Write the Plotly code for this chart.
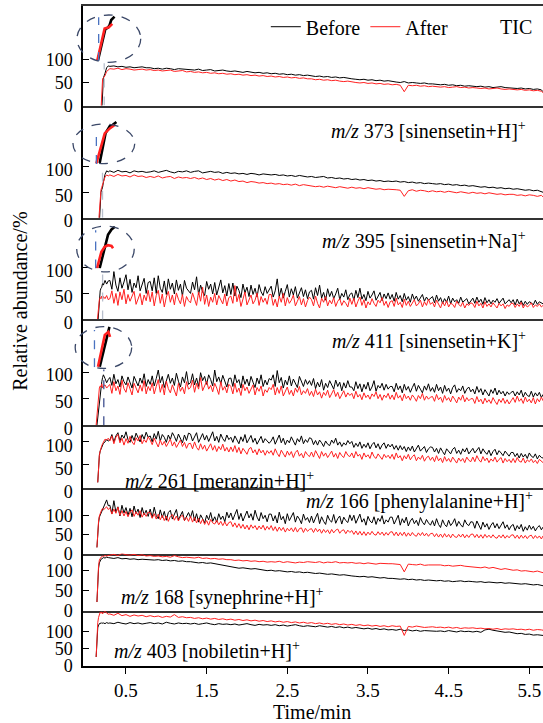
import plotly.graph_objects as go

# ---------------- DATA ----------------
t_lead = [0.13, 0.14, 0.15, 0.16, 0.17, 0.18, 0.19, 0.20, 0.21, 0.22, 0.24, 0.26, 0.28]
t_main = [0.30, 0.35, 0.40, 0.45, 0.50, 0.55, 0.60, 0.65, 0.70, 0.75,
          0.80, 0.85, 0.90, 0.95, 1.00, 1.05, 1.10, 1.15, 1.20, 1.25,
          1.30, 1.35, 1.40, 1.45, 1.50, 1.55, 1.60, 1.65, 1.70, 1.75,
          1.80, 1.85, 1.90, 1.95, 2.00, 2.05, 2.10, 2.15, 2.20, 2.25,
          2.30, 2.35, 2.40, 2.45, 2.50, 2.55, 2.60, 2.65, 2.70, 2.75,
          2.80, 2.85, 2.90, 2.95, 3.00, 3.05, 3.10, 3.15, 3.20, 3.25,
          3.30, 3.35, 3.40, 3.45, 3.50, 3.55, 3.60, 3.65, 3.70, 3.75,
          3.80, 3.85, 3.90, 3.95, 4.00, 4.05, 4.10, 4.15, 4.20, 4.25,
          4.30, 4.35, 4.40, 4.45, 4.50, 4.55, 4.60, 4.65, 4.70, 4.75,
          4.80, 4.85, 4.90, 4.95, 5.00, 5.05, 5.10, 5.15, 5.20, 5.25,
          5.30, 5.35, 5.40, 5.45, 5.50, 5.55, 5.60, 5.65, 5.67]
# finer sampling used for the noisy ion traces
t_fine = [0.300, 0.325, 0.350, 0.375, 0.400, 0.425, 0.450, 0.475, 0.500, 0.525,
          0.550, 0.575, 0.600, 0.625, 0.650, 0.675, 0.700, 0.725, 0.750, 0.775,
          0.800, 0.825, 0.850, 0.875, 0.900, 0.925, 0.950, 0.975, 1.000, 1.025,
          1.050, 1.075, 1.100, 1.125, 1.150, 1.175, 1.200, 1.225, 1.250, 1.275,
          1.300, 1.325, 1.350, 1.375, 1.400, 1.425, 1.450, 1.475, 1.500, 1.525,
          1.550, 1.575, 1.600, 1.625, 1.650, 1.675, 1.700, 1.725, 1.750, 1.775,
          1.800, 1.825, 1.850, 1.875, 1.900, 1.925, 1.950, 1.975, 2.000, 2.025,
          2.050, 2.075, 2.100, 2.125, 2.150, 2.175, 2.200, 2.225, 2.250, 2.275,
          2.300, 2.325, 2.350, 2.375, 2.400, 2.425, 2.450, 2.475, 2.500, 2.525,
          2.550, 2.575, 2.600, 2.625, 2.650, 2.675, 2.700, 2.725, 2.750, 2.775,
          2.800, 2.825, 2.850, 2.875, 2.900, 2.925, 2.950, 2.975, 3.000, 3.025,
          3.050, 3.075, 3.100, 3.125, 3.150, 3.175, 3.200, 3.225, 3.250, 3.275,
          3.300, 3.325, 3.350, 3.375, 3.400, 3.425, 3.450, 3.475, 3.500, 3.525,
          3.550, 3.575, 3.600, 3.625, 3.650, 3.675, 3.700, 3.725, 3.750, 3.775,
          3.800, 3.825, 3.850, 3.875, 3.900, 3.925, 3.950, 3.975, 4.000, 4.025,
          4.050, 4.075, 4.100, 4.125, 4.150, 4.175, 4.200, 4.225, 4.250, 4.275,
          4.300, 4.325, 4.350, 4.375, 4.400, 4.425, 4.450, 4.475, 4.500, 4.525,
          4.550, 4.575, 4.600, 4.625, 4.650, 4.675, 4.700, 4.725, 4.750, 4.775,
          4.800, 4.825, 4.850, 4.875, 4.900, 4.925, 4.950, 4.975, 5.000, 5.025,
          5.050, 5.075, 5.100, 5.125, 5.150, 5.175, 5.200, 5.225, 5.250, 5.275,
          5.300, 5.325, 5.350, 5.375, 5.400, 5.425, 5.450, 5.475, 5.500, 5.525,
          5.550, 5.575, 5.600, 5.625, 5.650, 5.67]
time_min = t_lead + t_main
time_fine = t_lead + t_fine

# TIC
tic_before = [None] * 7 + [-10, 50, 60, 70, 82, 86] + [
    85, 86, 84, 85, 83, 84, 82, 83, 84, 82,
    82, 80, 81, 79, 81, 80, 78, 80, 79, 78,
    78, 77, 79, 76, 77, 78, 75, 76, 77, 75,
    74, 75, 73, 72, 74, 72, 71, 72, 70, 71,
    69, 70, 68, 69, 67, 68, 66, 67, 65, 66,
    65, 63, 64, 62, 63, 61, 62, 60, 61, 59,
    58, 57, 56, 57, 55, 56, 54, 55, 53, 54,
    52, 51, 50, 52, 49, 50, 49, 48, 49, 47,
    47, 46, 45, 46, 44, 45, 43, 44, 42, 43,
    42, 41, 42, 40, 41, 39, 40, 41, 39, 38,
    38, 37, 38, 36, 37, 35, 36, 34, 30]
tic_after = [None] * 6 + [-10, 20, 58, 60, 65, 74, 78] + [
    80, 79, 81, 78, 80, 79, 77, 78, 79, 77,
    78, 76, 77, 75, 76, 77, 74, 75, 76, 73,
    74, 72, 73, 71, 72, 70, 71, 69, 70, 68,
    69, 67, 68, 66, 67, 65, 66, 64, 65, 63,
    64, 62, 63, 61, 62, 60, 61, 59, 60, 58,
    58, 56, 57, 55, 56, 54, 55, 53, 52, 53,
    51, 50, 49, 50, 48, 49, 47, 48, 46, 47,
    45, 46, 44, 30, 44, 43, 44, 42, 43, 41,
    42, 41, 40, 41, 39, 40, 41, 39, 40, 38,
    39, 38, 37, 38, 36, 37, 38, 36, 35, 36,
    35, 34, 35, 33, 34, 32, 33, 31, 28]

# m/z 373
mz373_before = [None] * 4 + [-10, 30, 50, 55, 60, 70, 85, 92, 90] + [
    92, 89, 93, 90, 91, 88, 92, 90, 91, 89,
    90, 92, 89, 91, 93, 90, 88, 91, 90, 92,
    89, 91, 92, 88, 90, 91, 89, 90, 87, 89,
    87, 88, 86, 87, 85, 87, 86, 84, 86, 85,
    84, 85, 83, 84, 82, 83, 81, 83, 82, 80,
    81, 79, 80, 81, 78, 79, 77, 78, 76, 77,
    75, 76, 74, 75, 73, 74, 72, 73, 71, 72,
    71, 72, 70, 71, 69, 70, 68, 69, 67, 68,
    67, 66, 67, 65, 66, 64, 65, 63, 64, 62,
    63, 62, 60, 61, 59, 60, 58, 59, 57, 58,
    56, 57, 55, 54, 55, 53, 54, 52, 50]
mz373_after = [None] * 3 + [-10, 20, 45, 55, 60, 65, 72, 80, 84, 82] + [
    84, 81, 85, 82, 83, 80, 84, 81, 82, 79,
    81, 79, 82, 78, 80, 81, 77, 80, 78, 79,
    77, 79, 76, 78, 75, 77, 74, 76, 73, 75,
    72, 74, 71, 72, 69, 71, 70, 68, 69, 67,
    68, 66, 67, 65, 66, 64, 66, 63, 65, 64,
    63, 61, 62, 60, 62, 61, 59, 61, 60, 58,
    60, 58, 59, 57, 59, 58, 56, 57, 55, 56,
    56, 55, 54, 42, 53, 55, 52, 54, 53, 51,
    53, 51, 52, 50, 52, 51, 49, 51, 50, 48,
    50, 48, 49, 47, 49, 48, 46, 47, 45, 46,
    46, 44, 45, 43, 45, 44, 42, 44, 41]

# m/z 395 (fine sampling)
mz395_before = [None] * 2 + [-10, 20, 45, 55, 60, 62, 70, 66, 75, 68, 74] + [
    75, 58, 92, 66, 54, 80, 60, 72, 86, 57, 77, 52, 70, 61, 84, 55, 68, 79, 50, 71,
    73, 55, 80, 50, 84, 60, 52, 74, 48, 78, 58, 70, 49, 76, 56, 68, 45, 75, 60, 54,
    50, 72, 57, 82, 48, 66, 53, 46, 73, 58, 68, 49, 71, 47, 63, 76, 51, 65, 45, 69,
    48, 70, 45, 64, 56, 42, 68, 51, 62, 44, 66, 48, 60, 43, 67, 53, 46, 63, 50, 58,
    64, 43, 55, 78, 44, 60, 41, 54, 67, 43, 59, 47, 63, 41, 52, 61, 44, 57, 40, 53,
    56, 39, 61, 46, 66, 41, 52, 37, 59, 44, 54, 40, 49, 60, 38, 50, 43, 57, 38, 48,
    51, 37, 56, 42, 60, 39, 48, 36, 54, 41, 47, 55, 37, 45, 52, 36, 49, 40, 51, 39,
    48, 35, 52, 39, 46, 34, 50, 37, 44, 33, 49, 38, 45, 35, 42, 48, 35, 43, 37, 41,
    44, 32, 47, 35, 42, 31, 40, 33, 45, 30, 41, 34, 38, 31, 43, 33, 37, 40, 30, 36,
    41, 31, 43, 33, 39, 29, 42, 32, 38, 30, 37, 33, 40, 31, 35, 41, 30, 34, 38, 32,
    38, 28, 39, 30, 36, 27, 35, 29, 34, 32, 28, 37, 29, 34, 31, 30]
mz395_after = [None] + [-10, 10, 30, 38, 42, 40, 45, 38, 44, 40, 46, 38] + [
    40, 55, 31, 50, 27, 53, 38, 58, 30, 48, 35, 46, 54, 29, 41, 50, 28, 47, 36, 56,
    34, 53, 26, 46, 56, 31, 49, 24, 43, 54, 33, 47, 28, 51, 39, 30, 48, 25, 44, 36,
    32, 51, 39, 27, 53, 35, 62, 29, 47, 25, 43, 33, 50, 28, 46, 37, 30, 49, 26, 42,
    45, 31, 65, 34, 48, 25, 42, 53, 28, 39, 47, 30, 37, 51, 27, 44, 33, 41, 29, 48,
    48, 27, 39, 24, 45, 33, 50, 26, 42, 31, 37, 47, 26, 35, 44, 28, 40, 24, 36, 43,
    38, 26, 45, 31, 22, 41, 33, 44, 26, 37, 30, 42, 25, 35, 40, 27, 36, 31, 24, 41,
    29, 41, 24, 35, 43, 27, 38, 22, 34, 28, 40, 31, 25, 37, 32, 42, 27, 35, 23, 34,
    36, 25, 41, 28, 33, 23, 39, 27, 35, 25, 32, 38, 26, 30, 37, 24, 34, 27, 39, 29,
    33, 24, 37, 28, 22, 34, 26, 36, 24, 31, 29, 23, 35, 29, 25, 33, 22, 30, 27, 32,
    30, 23, 35, 26, 31, 22, 34, 25, 30, 24, 32, 27, 22, 31, 26, 30, 21, 28, 25, 31,
    31, 23, 30, 25, 33, 22, 29, 24, 27, 32, 23, 28, 25, 30, 24, 27]

# m/z 411 (fine sampling)
mz411_before = [None] + [0, 15, 30, 45, 60, 72, 82, 90, 95, 88, 80, 86] + [
    90, 75, 96, 78, 86, 72, 93, 82, 76, 91, 80, 70, 92, 84, 74, 89, 79, 97, 73, 86,
    77, 93, 74, 88, 104, 80, 92, 71, 86, 96, 79, 89, 75, 98, 83, 72, 91, 80, 101, 77,
    80, 97, 76, 89, 73, 99, 84, 92, 77, 95, 86, 74, 104, 82, 91, 78, 94, 84, 72, 88,
    89, 73, 95, 80, 86, 70, 93, 77, 87, 74, 92, 81, 71, 89, 78, 95, 73, 85, 76, 88,
    85, 95, 73, 103, 80, 90, 70, 85, 76, 93, 74, 87, 79, 71, 92, 81, 73, 86, 77, 84,
    75, 88, 69, 81, 72, 86, 66, 79, 71, 84, 76, 68, 85, 73, 81, 65, 80, 70, 84, 72,
    72, 65, 82, 69, 78, 63, 77, 68, 81, 65, 72, 84, 64, 75, 70, 79, 66, 77, 68, 73,
    73, 63, 79, 67, 74, 61, 77, 66, 73, 62, 71, 79, 64, 75, 68, 61, 74, 66, 78, 64,
    71, 62, 77, 65, 72, 60, 75, 64, 70, 59, 71, 76, 62, 69, 65, 74, 60, 68, 72, 63,
    68, 59, 73, 62, 69, 57, 67, 61, 55, 67, 60, 70, 57, 66, 59, 64, 55, 63, 58, 62,
    64, 55, 63, 57, 66, 53, 62, 56, 54, 64, 53, 61, 55, 62, 52, 58]
mz411_after = [0, 20, 45, 62, 70, 74, 72, 78, 70, 74, 76, 70, 74] + [
    77, 60, 82, 65, 74, 58, 85, 69, 62, 80, 67, 57, 79, 71, 61, 76, 64, 84, 59, 73,
    65, 80, 59, 73, 86, 62, 77, 57, 83, 69, 61, 76, 67, 55, 79, 64, 72, 59, 82, 68,
    71, 85, 62, 79, 68, 90, 65, 76, 83, 68, 75, 63, 79, 70, 58, 82, 66, 73, 61, 77,
    73, 59, 79, 62, 70, 56, 77, 65, 72, 60, 68, 76, 57, 71, 64, 74, 55, 67, 62, 71,
    67, 77, 57, 71, 60, 74, 55, 64, 72, 58, 66, 55, 70, 62, 73, 57, 65, 60, 69, 56,
    64, 54, 68, 57, 63, 51, 62, 56, 66, 52, 60, 67, 54, 62, 50, 59, 65, 53, 61, 56,
    60, 50, 64, 53, 58, 48, 61, 52, 57, 49, 59, 54, 63, 50, 58, 47, 57, 52, 60, 49,
    57, 48, 62, 51, 56, 46, 59, 50, 55, 47, 57, 52, 45, 56, 50, 60, 47, 55, 49, 53,
    54, 45, 58, 48, 53, 43, 56, 47, 52, 44, 55, 49, 42, 53, 47, 57, 44, 52, 46, 50,
    50, 41, 54, 44, 49, 40, 51, 43, 48, 41, 52, 45, 39, 49, 43, 51, 41, 48, 40, 46,
    52, 43, 55, 45, 50, 41, 53, 44, 49, 42, 52, 40, 50, 44, 53, 46]

# m/z 261 (fine sampling)
mz261_before = [None] * 2 + [12, 50, 70, 80, 85, 90, 95, 97, 100, 105, 102] + [
    104, 116, 100, 113, 120, 102, 115, 108, 122, 105, 99, 114, 103, 119, 109, 100, 116, 106, 121, 110,
    113, 100, 118, 106, 123, 102, 116, 110, 99, 115, 105, 120, 112, 101, 117, 107, 98, 115, 103, 119,
    117, 102, 112, 120, 99, 109, 118, 104, 114, 101, 110, 122, 102, 112, 99, 117, 107, 101, 115, 105,
    110, 99, 113, 103, 96, 111, 101, 116, 98, 106, 114, 99, 108, 95, 104, 112, 98, 107, 102, 97,
    102, 111, 95, 105, 115, 98, 108, 94, 104, 98, 111, 102, 93, 107, 100, 113, 96, 105, 99, 109,
    107, 94, 103, 93, 104, 98, 90, 102, 95, 92, 104, 97, 108, 93, 100, 90, 98, 93, 103, 96,
    101, 88, 97, 90, 100, 86, 95, 88, 98, 85, 94, 99, 87, 96, 84, 93, 98, 86, 95, 89,
    95, 84, 92, 82, 92, 83, 90, 79, 89, 81, 91, 78, 87, 93, 80, 86, 90, 77, 85, 89,
    88, 78, 86, 75, 87, 79, 72, 85, 78, 74, 84, 88, 75, 82, 73, 85, 78, 87, 74, 81,
    86, 76, 83, 88, 74, 85, 78, 73, 82, 70, 79, 84, 72, 81, 76, 70, 80, 74, 69, 77,
    77, 68, 75, 65, 75, 67, 73, 64, 76, 69, 66, 74, 63, 71, 66, 65]
mz261_after = [None] * 2 + [12, 55, 72, 80, 88, 92, 96, 100, 106, 104, 108] + [
    102, 113, 96, 110, 116, 98, 108, 93, 107, 97, 112, 100, 94, 109, 102, 114, 96, 105, 99, 111,
    104, 94, 108, 97, 89, 104, 93, 101, 90, 98, 106, 91, 100, 88, 97, 104, 90, 99, 86, 96,
    97, 85, 100, 88, 82, 96, 84, 93, 80, 90, 96, 82, 92, 79, 90, 83, 95, 80, 88, 78,
    89, 79, 92, 77, 88, 74, 86, 80, 73, 85, 88, 76, 83, 72, 85, 76, 82, 71, 81, 75,
    81, 71, 85, 75, 68, 82, 73, 67, 80, 71, 79, 66, 77, 82, 69, 75, 65, 79, 72, 68,
    78, 67, 81, 71, 64, 79, 69, 76, 66, 73, 80, 67, 75, 64, 77, 70, 66, 79, 71, 68,
    76, 65, 79, 69, 73, 62, 76, 67, 72, 64, 78, 68, 64, 74, 67, 62, 73, 66, 71, 64,
    73, 62, 76, 65, 70, 59, 70, 63, 73, 61, 68, 72, 59, 67, 62, 71, 58, 66, 69, 60,
    67, 57, 70, 59, 65, 55, 68, 58, 64, 56, 67, 60, 54, 65, 58, 64, 55, 67, 60, 57,
    67, 57, 70, 61, 56, 68, 59, 65, 55, 63, 58, 67, 56, 62, 66, 54, 64, 57, 62, 55,
    64, 55, 66, 58, 56, 65, 54, 61, 57, 63, 55, 60, 53, 62, 57, 55]

# m/z 166 (fine sampling)
mz166_before = [None] + [16, 55, 80, 95, 100, 105, 110, 115, 120, 128, 140, 125] + [
    126, 104, 138, 108, 122, 98, 126, 106, 120, 100, 118, 96, 124, 104, 116, 94, 120, 101, 113, 97,
    116, 94, 121, 99, 91, 114, 94, 110, 87, 107, 113, 90, 104, 115, 88, 101, 110, 86, 98, 107,
    94, 112, 86, 104, 82, 101, 91, 80, 100, 88, 107, 84, 96, 82, 104, 89, 98, 83, 108, 93,
    106, 88, 102, 115, 89, 105, 85, 99, 111, 93, 104, 87, 113, 95, 85, 107, 91, 100, 83, 103,
    103, 85, 99, 80, 108, 88, 97, 78, 104, 86, 95, 107, 82, 98, 90, 78, 103, 87, 94, 81,
    98, 80, 93, 105, 78, 96, 84, 76, 100, 87, 82, 102, 79, 91, 98, 77, 95, 86, 81, 101,
    86, 100, 79, 93, 103, 82, 91, 74, 97, 85, 80, 96, 76, 92, 84, 99, 77, 88, 82, 95,
    95, 77, 88, 100, 74, 91, 80, 95, 72, 85, 92, 78, 87, 73, 94, 82, 75, 89, 80, 74,
    86, 72, 91, 76, 68, 88, 76, 70, 87, 73, 80, 91, 71, 84, 75, 69, 88, 77, 73, 83,
    82, 66, 85, 72, 63, 82, 69, 78, 63, 74, 81, 67, 78, 65, 73, 83, 66, 75, 62, 72,
    76, 60, 73, 64, 76, 58, 70, 61, 74, 63, 71, 59, 68, 73, 62, 69]
mz166_after = [None] + [16, 60, 85, 98, 105, 110, 115, 118, 114, 118, 122, 115] + [
    119, 103, 116, 105, 121, 100, 112, 98, 110, 96, 108, 114, 97, 109, 100, 112, 95, 106, 97, 108,
    107, 92, 104, 90, 103, 88, 100, 86, 98, 84, 97, 102, 87, 98, 85, 96, 100, 86, 95, 84,
    97, 82, 94, 80, 92, 78, 90, 76, 86, 74, 89, 80, 77, 87, 75, 84, 73, 83, 72, 81,
    83, 70, 80, 68, 78, 66, 76, 64, 74, 62, 75, 66, 73, 62, 72, 64, 74, 61, 71, 63,
    73, 60, 70, 58, 69, 60, 68, 56, 66, 59, 67, 57, 68, 56, 65, 67, 55, 66, 58, 63,
    65, 55, 66, 57, 64, 53, 63, 55, 62, 52, 63, 54, 61, 64, 53, 60, 62, 52, 61, 55,
    60, 50, 59, 49, 58, 48, 57, 47, 56, 49, 58, 50, 48, 57, 49, 56, 47, 55, 48, 56,
    57, 47, 56, 46, 55, 47, 56, 45, 54, 46, 55, 48, 45, 54, 47, 55, 46, 53, 45, 52,
    53, 44, 52, 43, 51, 42, 52, 43, 50, 41, 51, 44, 42, 50, 43, 51, 41, 49, 42, 50,
    51, 42, 50, 41, 49, 40, 50, 42, 48, 41, 49, 42, 40, 48, 41, 49, 40, 47, 41, 48,
    49, 40, 48, 39, 48, 40, 47, 39, 46, 48, 39, 47, 40, 46, 38, 46]

# m/z 168
mz168_before = [None] + [22, 70, 105, 118, 124, 127, 128, 130, 131, 130, 132, 131] + [
    130, 129, 131, 128, 129, 127, 128, 126, 127, 126,
    126, 125, 126, 124, 125, 123, 124, 122, 123, 121,
    121, 120, 118, 119, 117, 118, 116, 114, 112, 110,
    108, 107, 105, 106, 104, 103, 104, 102, 101, 99,
    100, 98, 99, 97, 96, 97, 95, 96, 94, 95,
    93, 92, 93, 91, 90, 91, 89, 88, 89, 87,
    86, 85, 84, 85, 83, 84, 82, 81, 82, 80,
    80, 79, 78, 79, 77, 78, 76, 77, 75, 76,
    75, 74, 75, 73, 74, 72, 73, 74, 72, 73,
    72, 71, 72, 70, 71, 70, 69, 70, 68, 69,
    68, 67, 66, 67, 65, 64, 65, 63, 62]
mz168_after = [None] + [22, 75, 112, 125, 130, 132, 133, 135, 134, 136, 135, 137] + [
    137, 139, 136, 141, 138, 137, 139, 136, 138, 135,
    136, 134, 135, 133, 134, 132, 136, 133, 131, 132,
    131, 130, 132, 129, 130, 128, 129, 127, 128, 126,
    126, 124, 125, 123, 124, 122, 123, 121, 122, 120,
    121, 120, 122, 119, 121, 120, 118, 120, 119, 121,
    120, 119, 121, 118, 120, 119, 121, 118, 119, 118,
    119, 117, 118, 116, 118, 117, 115, 117, 116, 116,
    116, 115, 114, 96, 115, 114, 113, 115, 112, 113,
    113, 112, 113, 111, 112, 110, 111, 112, 110, 109,
    108, 107, 106, 108, 105, 107, 104, 102, 104, 102,
    100, 101, 98, 99, 97, 96, 98, 95, 94]

# m/z 403
mz403_before = [26, 80, 110, 118, 122, 124, 122, 125, 123, 124, 122, 125, 123] + [
    124, 122, 126, 123, 121, 125, 122, 124, 121, 123,
    125, 122, 124, 121, 126, 123, 121, 124, 122, 123,
    121, 123, 120, 122, 124, 121, 119, 122, 120, 121,
    119, 121, 118, 120, 122, 119, 117, 120, 118, 119,
    117, 119, 116, 118, 115, 117, 119, 116, 114, 116,
    115, 113, 116, 114, 112, 114, 111, 113, 110, 112,
    109, 111, 108, 107, 109, 106, 108, 105, 107, 104,
    105, 103, 106, 102, 104, 101, 103, 100, 102, 101,
    102, 100, 101, 99, 102, 100, 98, 101, 99, 100,
    98, 100, 97, 104, 106, 103, 101, 99, 97, 98,
    95, 93, 94, 91, 92, 89, 90, 87, 88]
mz403_after = [26, 90, 125, 140, 150, 155, 152, 156, 150, 154, 157, 152, 149] + [
    150, 146, 152, 145, 148, 143, 147, 144, 146, 142,
    145, 142, 144, 140, 143, 141, 148, 140, 142, 139,
    140, 137, 139, 136, 138, 135, 137, 134, 136, 133,
    135, 132, 134, 131, 133, 130, 132, 129, 131, 128,
    130, 127, 129, 126, 128, 125, 127, 124, 126, 123,
    125, 122, 124, 121, 123, 120, 122, 119, 121, 118,
    120, 117, 119, 116, 118, 115, 117, 114, 116, 113,
    116, 114, 115, 88, 114, 112, 115, 113, 111, 112,
    113, 111, 112, 110, 112, 109, 111, 108, 110, 109,
    110, 108, 109, 107, 108, 106, 108, 105, 107, 106,
    107, 105, 106, 104, 106, 103, 105, 104, 103]

# magnified views of the signal onset (insets of the first four panels)
inset1_t_before = [0.195, 0.228, 0.240, 0.248, 0.255, 0.270]
inset1_v_before = [2, 83, 87, 94, 107, 116]
inset1_t_after = [0.192, 0.225, 0.244, 0.248, 0.260]
inset1_v_after = [2, 85, 88, 91, 97]
inset2_t_before = [0.213, 0.240, 0.259, 0.270, 0.289]
inset2_v_before = [3, 81, 99, 101, 110]
inset2_t_after = [0.198, 0.236, 0.259, 0.281]
inset2_v_after = [2, 80, 93, 102]
inset3_t_before = [0.216, 0.239, 0.254, 0.270, 0.285]
inset3_v_before = [1, 57, 88, 102, 109]
inset3_t_after = [0.204, 0.224, 0.239, 0.254, 0.270, 0.277]
inset3_v_after = [1, 44, 57, 61, 59, 53]
inset4_t_before = [0.222, 0.250, 0.266]
inset4_v_before = [1, 70, 105]
inset4_t_after = [0.214, 0.245, 0.261, 0.269]
inset4_v_after = [1, 84, 92, 79]

panel_labels = [
    "TIC",
    "<i>m/z</i> 373 [sinensetin+H]<sup>+</sup>",
    "<i>m/z</i> 395 [sinensetin+Na]<sup>+</sup>",
    "<i>m/z</i> 411 [sinensetin+K]<sup>+</sup>",
    "<i>m/z</i> 261 [meranzin+H]<sup>+</sup>",
    "<i>m/z</i> 166 [phenylalanine+H]<sup>+</sup>",
    "<i>m/z</i> 168 [synephrine+H]<sup>+</sup>",
    "<i>m/z</i> 403 [nobiletin+H]<sup>+</sup>",
]
series_time = [time_min, time_min, time_fine, time_fine,
               time_fine, time_fine, time_min, time_min]
series_before = [tic_before, mz373_before, mz395_before, mz411_before,
                 mz261_before, mz166_before, mz168_before, mz403_before]
series_after = [tic_after, mz373_after, mz395_after, mz411_after,
                mz261_after, mz166_after, mz168_after, mz403_after]
for _t, _b, _a in zip(series_time, series_before, series_after):
    assert len(_t) == len(_b) == len(_a), (len(_t), len(_b), len(_a))

insets = [
    (inset1_t_before, inset1_v_before, inset1_t_after, inset1_v_after),
    (inset2_t_before, inset2_v_before, inset2_t_after, inset2_v_after),
    (inset3_t_before, inset3_v_before, inset3_t_after, inset3_v_after),
    (inset4_t_before, inset4_v_before, inset4_t_after, inset4_v_after),
]
x_tick_vals = [0.5, 1.5, 2.5, 3.5, 4.5, 5.5]
x_tick_text = ["0.5", "1.5", "2.5", "3.5", "4..5", "5.5"]
y_tick_vals = [0, 50, 100]

# ---------------- LAYOUT GEOMETRY ----------------
W, H = 543, 723
ML, MR, MT, MB = 83.3, 0, 6, 57.3
PW = W - ML - MR
PH = H - MT - MB
FONT = "Liberation Serif, Times New Roman, serif"


def fx(px):
    return (px - ML) / PW


def fy(py):
    return (H - MB - py) / PH


bounds = [6, 105.5, 217.7, 319.3, 425, 487.7, 553.3, 610.7, 665.7]
y_tops = [216, 220, 195.4, 199.4, 136.3, 171.3, 141, 158.5]
label_shift = [0, 3, 3, 3, 4, 0, 0, 0]
x_range = [-0.033, 5.67]

label_pos = [(516, 26.7, "center"), (528, 130, "right"), (528, 240, "right"),
             (528, 340, "right"), (123, 479.3, "left"), (535, 500, "right"),
             (119, 596, "left"), (112, 650, "left")]

BLACK = "#000000"
RED = "#ff2020"

fig = go.Figure()
layout = dict(
    width=W, height=H,
    margin=dict(l=ML, r=MR, t=MT, b=MB, pad=0),
    paper_bgcolor="white", plot_bgcolor="white",
    font=dict(family=FONT, size=18, color="black"),
    showlegend=True,
    legend=dict(orientation="h", x=fx(266), y=fy(26.7), xanchor="left", yanchor="middle",
                font=dict(family=FONT, size=20, color="black"),
                bgcolor="rgba(0,0,0,0)", itemwidth=30, tracegroupgap=0),
)

annotations = []
shapes = []

for i in range(8):
    k = i + 1
    xa = "x" if k == 1 else f"x{k}"
    ya = "y" if k == 1 else f"y{k}"
    fig.add_trace(go.Scatter(x=series_time[i], y=series_before[i], mode="lines",
                             line=dict(color=BLACK, width=1.0), name="Before",
                             showlegend=(i == 0), xaxis=xa, yaxis=ya,
                             hoverinfo="skip"))
    fig.add_trace(go.Scatter(x=series_time[i], y=series_after[i], mode="lines",
                             line=dict(color=RED, width=1.0), name="After",
                             showlegend=(i == 0), xaxis=xa, yaxis=ya,
                             hoverinfo="skip"))
    top_px, bot_px = bounds[i], bounds[i + 1]
    xkey = "xaxis" if k == 1 else f"xaxis{k}"
    ykey = "yaxis" if k == 1 else f"yaxis{k}"
    last = (k == 8)
    layout[xkey] = dict(
        domain=[0, 1], anchor=ya, range=x_range,
        showgrid=False, zeroline=False,
        showline=True, linecolor="#333333" if not last else "black", linewidth=1.5,
        mirror=(k == 1),
        showticklabels=last,
        ticks="outside" if last else "",
        tickvals=x_tick_vals if last else None,
        ticktext=x_tick_text if last else None,
        ticklen=6, tickwidth=1.3, tickcolor="black",
        tickfont=dict(family=FONT, size=19, color="black"),
    )
    if k > 1:
        layout[xkey]["matches"] = "x"
    layout[ykey] = dict(
        domain=[fy(bot_px), fy(top_px)], anchor=xa,
        range=[0, y_tops[i]], showgrid=False, zeroline=False,
        showline=True, linecolor="black", linewidth=1.5,
        ticks="inside", ticklen=6, tickwidth=1.3, tickcolor="black",
        tickvals=y_tick_vals, ticklabelstandoff=5, ticklabelshift=label_shift[i],
        tickfont=dict(family=FONT, size=18, color="black"),
    )
    lx, ly, anc = label_pos[i]
    annotations.append(dict(text=panel_labels[i], xref="paper", yref="paper",
                            x=fx(lx), y=fy(ly), xanchor=anc, yanchor="middle",
                            showarrow=False,
                            font=dict(family=FONT, size=20, color="black")))

# ---------------- INSETS ----------------
inset_boxes = [(95, 61), (92.7, 164), (92, 268.5), (90.8, 367)]
ellipses = [(77.3, 141, 15, 62.3), (73.3, 135, 124, 163.5),
            (77, 134.5, 226, 271.7), (75.5, 132, 326.5, 368.3)]
dash_tops = [114, 94, 100, 97]
connectors = [(0.23, 92, "#b8bfcc"), (0.209, 103, "#b8bfcc"),
              (0.21, 89, "#b8bfcc"), (0.225, 105, "#3f4f8f")]
for j in range(4):
    k = 9 + j
    x0, y0 = inset_boxes[j]
    tb, vb, ta, va = insets[j]
    fig.add_trace(go.Scatter(x=tb, y=vb, mode="lines", line=dict(color=BLACK, width=2.6),
                             showlegend=False, xaxis=f"x{k}", yaxis=f"y{k}",
                             hoverinfo="skip"))
    fig.add_trace(go.Scatter(x=ta, y=va, mode="lines", line=dict(color=RED, width=2.6),
                             showlegend=False, xaxis=f"x{k}", yaxis=f"y{k}",
                             hoverinfo="skip"))
    layout[f"xaxis{k}"] = dict(domain=[fx(x0), fx(x0 + 26.4)], range=[0.18, 0.30],
                               anchor=f"y{k}", visible=False)
    layout[f"yaxis{k}"] = dict(domain=[fy(y0), fy(y0 - 46)], range=[0, 120],
                               anchor=f"x{k}", visible=False)
    shapes.append(dict(type="line", xref=f"x{k}", yref=f"y{k}", x0=0.198, x1=0.198,
                       y0=0, y1=dash_tops[j], line=dict(color="#4a72c0", width=1.3, dash="dash")))
    ex0, ex1, ey0, ey1 = ellipses[j]
    shapes.append(dict(type="circle", xref="paper", yref="paper",
                       x0=fx(ex0), x1=fx(ex1), y0=fy(ey1), y1=fy(ey0),
                       line=dict(color="#3b4868", width=1.3, dash="dash")))
    ct, cv, cc = connectors[j]
    xa = "x" if j == 0 else f"x{j + 1}"
    ya = "y" if j == 0 else f"y{j + 1}"
    shapes.append(dict(type="line", xref=xa, yref=ya, x0=ct, x1=ct, y0=0, y1=cv,
                       line=dict(color=cc, width=1.3, dash="dash")))

annotations.append(dict(text="Relative abundance/%", xref="paper", yref="paper",
                        x=fx(20), y=fy(301), textangle=-90, showarrow=False,
                        xanchor="center", yanchor="middle",
                        font=dict(family=FONT, size=20, color="black")))
annotations.append(dict(text="Time/min", xref="paper", yref="paper",
                        x=fx(312), y=fy(712), showarrow=False,
                        xanchor="center", yanchor="middle",
                        font=dict(family=FONT, size=20, color="black")))

layout["annotations"] = annotations
layout["shapes"] = shapes
fig.update_layout(**layout)
fig.write_html("out.html", config={"displayModeBar": False},
               post_script="document.body.style.margin='0px';document.body.style.overflow='hidden';")
